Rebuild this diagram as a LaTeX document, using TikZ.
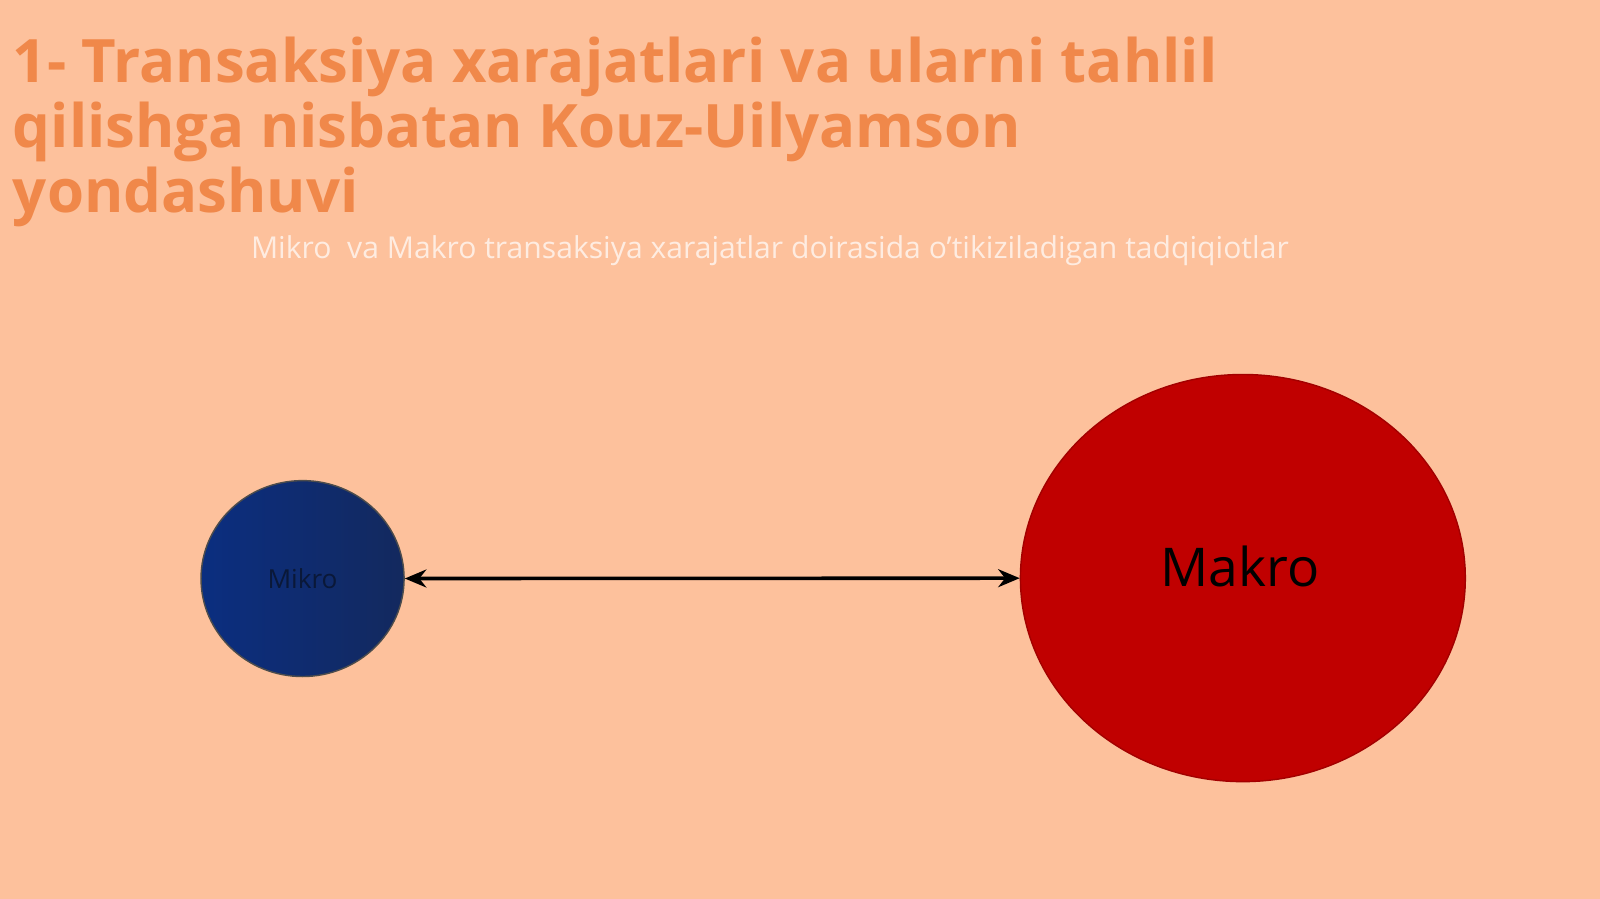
\documentclass[tikz,border=0pt]{standalone}
\usepackage{fontspec}
\setmainfont{Open Sans}
\usetikzlibrary{positioning, arrows.meta, shapes.geometric}

\definecolor{slidebg}{HTML}{FDC19C}
\definecolor{titleorange}{HTML}{F0884A}
\definecolor{mikroblue}{HTML}{0B2E80}
\definecolor{mikrodark}{HTML}{13295E}
\definecolor{mikroink}{HTML}{0A1838}
\definecolor{makrored}{HTML}{C00000}

\tikzset{
  blob/.style={ellipse, draw=black!70, line width=0.4pt, inner sep=0pt},
  link/.style={{Stealth[length=6pt,width=5pt]}-{Stealth[length=6pt,width=5pt]}, line width=1pt, black}
}

\begin{document}
\begin{tikzpicture}
\useasboundingbox[fill=slidebg] (0,0) rectangle (15.68,-8.81);

\node[anchor=north west, inner sep=0pt, align=left, text=titleorange,
      font=\bfseries\fontsize{16.7}{18.1}\selectfont] (title) at (0.12,-0.36)
  {1- Transaksiya xarajatlari va ularni tahlil\\qilishga nisbatan Kouz-Uilyamson\\yondashuvi};
\node[text=white, opacity=0.7, font=\fontsize{8.4}{10}\selectfont] (sub) at (7.545,-2.46)
  {Mikro\ \ va Makro transaksiya xarajatlar doirasida o'tikiziladigan tadqiqiotlar};

\node[blob, minimum width=1.99cm, minimum height=1.92cm, left color=mikroblue, right color=mikrodark,
      font=\fontsize{7.3}{9}\selectfont, text=mikroink] (mikro) at (2.965,-5.67) {Mikro};
\node[blob, draw=makrored!85!black, minimum width=4.36cm, minimum height=3.99cm, fill=makrored] (makro) at (12.18,-5.665) {};
\node[font=\fontsize{14.9}{17}\selectfont] (makrotxt) at (12.15,-5.55) {Makro};

\draw[link] (mikro) -- (makro);
\end{tikzpicture}
\end{document}
